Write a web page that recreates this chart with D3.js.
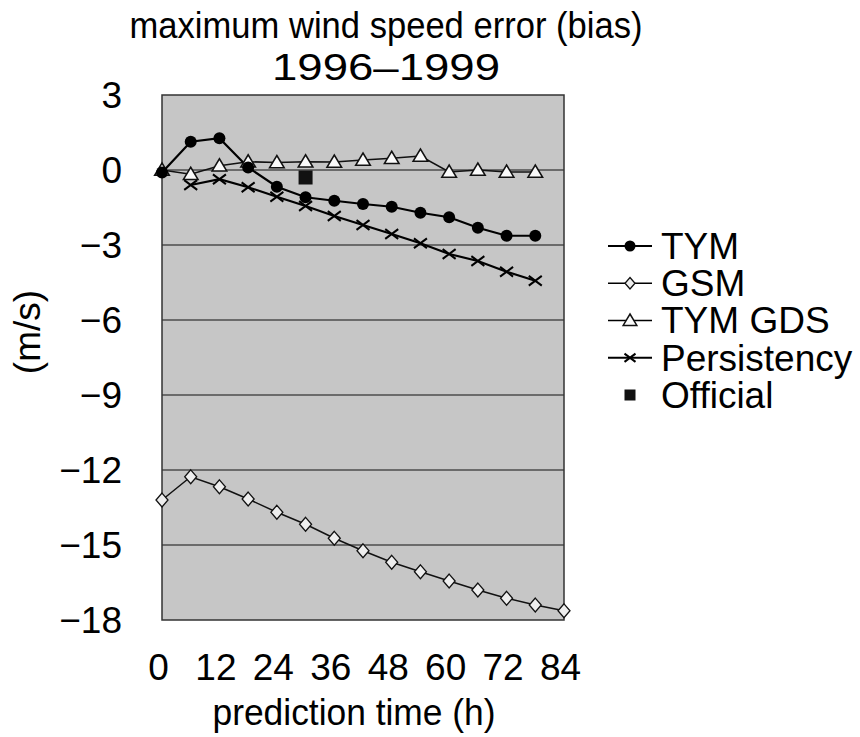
<!DOCTYPE html>
<html><head><meta charset="utf-8">
<script src="https://cdn.jsdelivr.net/npm/d3@7"></script>
<style>body{margin:0;background:#fff}svg{display:block}</style>
</head><body>
<svg id="c" width="860" height="737"></svg>
<script>
// ---- data ----
const hoursTYM = [0,6,12,18,24,30,36,42,48,54,60,66,72,78];
const tym = [-0.1,1.13,1.27,0.1,-0.67,-1.09,-1.23,-1.36,-1.47,-1.71,-1.89,-2.31,-2.63,-2.63];
const hoursGSM = [0,6,12,18,24,30,36,42,48,54,60,66,72,78,84];
const gsm = [-13.2,-12.27,-12.67,-13.16,-13.69,-14.17,-14.73,-15.23,-15.69,-16.07,-16.44,-16.8,-17.13,-17.4,-17.63];
const hoursGDS = [0,6,12,18,24,30,36,42,48,54,60,66,72,78];
const gds = [0,-0.17,0.17,0.33,0.3,0.33,0.32,0.4,0.47,0.56,-0.08,0.0,-0.08,-0.08];
const hoursPers = [6,12,18,24,30,36,42,48,54,60,66,72,78];
const pers = [-0.6,-0.37,-0.69,-1.07,-1.44,-1.84,-2.2,-2.56,-2.93,-3.36,-3.64,-4.07,-4.43];
const hoursOfficial = [30];
const official = [-0.3];
const xTicks = [0,12,24,36,48,60,72,84];
const yTicks = [3,0,-3,-6,-9,-12,-15,-18];
const gridValues = [0,-3,-6,-9,-12,-15];
const legendLabels = ["TYM","GSM","TYM GDS","Persistency","Official"];
const titleLines = ["maximum wind speed error (bias)","1996\u20131999"];

const FONT = "'Liberation Sans', Arial, sans-serif";
const svg = d3.select("#c");
const x = d3.scaleLinear().domain([0,84]).range([162,564]);
const y = d3.scaleLinear().domain([3,-18]).range([95,620]);

// plot background
svg.append("rect").attr("x",x(0)).attr("y",y(3)).attr("width",x(84)-x(0)).attr("height",y(-18)-y(3))
  .attr("fill","#c6c6c6");
// grid
svg.append("g").selectAll("line").data(gridValues).join("line")
  .attr("x1",x(0)).attr("x2",x(84)).attr("y1",d=>y(d)).attr("y2",d=>y(d))
  .attr("stroke","#111").attr("stroke-width",1.2);
// frame
svg.append("rect").attr("x",x(0)).attr("y",y(3)).attr("width",x(84)-x(0)).attr("height",y(-18)-y(3))
  .attr("fill","none").attr("stroke","#333").attr("stroke-width",1.5);

// axes (labels only)
const yAxis = d3.axisLeft(y).tickValues(yTicks).tickSize(0).tickPadding(0)
  .tickFormat(d=>d<0?"\u2212"+Math.abs(d):String(d));
const gy = svg.append("g").attr("transform","translate(122,0)").call(yAxis);
gy.select(".domain").remove();
gy.selectAll("text").attr("font-family",FONT).attr("font-size",37).attr("fill","#000").attr("dy","0.35em");

const xAxis = d3.axisBottom(x).tickValues(xTicks).tickSize(0).tickPadding(0);
const gx = svg.append("g").attr("transform","translate(-4,667)").call(xAxis);
gx.select(".domain").remove();
gx.selectAll("text").attr("font-family",FONT).attr("font-size",37).attr("fill","#000").attr("dy","0.35em");

// titles
svg.append("text").attr("x",386).attr("y",38).attr("text-anchor","middle")
  .attr("font-family",FONT).attr("font-size",36).attr("textLength",513).attr("lengthAdjust","spacingAndGlyphs")
  .text(titleLines[0]);
svg.append("text").attr("x",386).attr("y",80).attr("text-anchor","middle")
  .attr("font-family",FONT).attr("font-size",36).attr("textLength",228).attr("lengthAdjust","spacingAndGlyphs")
  .text(titleLines[1]);
svg.append("text").attr("x",354).attr("y",725).attr("text-anchor","middle")
  .attr("font-family",FONT).attr("font-size",37).attr("textLength",283).attr("lengthAdjust","spacingAndGlyphs")
  .text("prediction time (h)");
svg.append("text").attr("transform","translate(40,332) rotate(-90)").attr("text-anchor","middle")
  .attr("font-family",FONT).attr("font-size",37).text("(m/s)");

// marker helpers
function circleM(g,cx,cy,r){g.append("circle").attr("cx",cx).attr("cy",cy).attr("r",r).attr("fill","#000");}
function diamondM(g,cx,cy,s){g.append("path").attr("d",`M${cx},${cy-s*1.15}L${cx+s},${cy}L${cx},${cy+s*1.15}L${cx-s},${cy}Z`)
  .attr("fill","#eee").attr("stroke","#111").attr("stroke-width",1.3);}
function triM(g,cx,cy,s){g.append("path").attr("d",`M${cx},${cy-s}L${cx+s*1.05},${cy+s*0.75}L${cx-s*1.05},${cy+s*0.75}Z`)
  .attr("fill","#fafafa").attr("stroke","#111").attr("stroke-width",1.5);}
function xM(g,cx,cy,s){g.append("path").attr("d",`M${cx-s},${cy-s*0.75}L${cx+s},${cy+s*0.75}M${cx-s},${cy+s*0.75}L${cx+s},${cy-s*0.75}`)
  .attr("stroke","#000").attr("stroke-width",2);}
function sqM(g,cx,cy,s){g.append("rect").attr("x",cx-s/2).attr("y",cy-s/2).attr("width",s).attr("height",s).attr("fill","#111");}

const line = d3.line().x(d=>x(d[0])).y(d=>y(d[1]));
const zip = (a,b)=>a.map((h,i)=>[h,b[i]]);

const gsmPts = zip(hoursGSM,gsm), gdsPts = zip(hoursGDS,gds), persPts = zip(hoursPers,pers), tymPts = zip(hoursTYM,tym);
const plot = svg.append("g");
plot.append("path").attr("d",line(gsmPts)).attr("fill","none").attr("stroke","#111").attr("stroke-width",1.5);
plot.append("path").attr("d",line(persPts)).attr("fill","none").attr("stroke","#000").attr("stroke-width",2.2);
plot.append("path").attr("d",line(gdsPts)).attr("fill","none").attr("stroke","#111").attr("stroke-width",1.6);
plot.append("path").attr("d",line(tymPts)).attr("fill","none").attr("stroke","#000").attr("stroke-width",2.2);
gsmPts.forEach(d=>diamondM(plot,x(d[0]),y(d[1]),6));
persPts.forEach(d=>xM(plot,x(d[0]),y(d[1]),6.5));
gdsPts.forEach(d=>triM(plot,x(d[0]),y(d[1]),7));
tymPts.forEach(d=>circleM(plot,x(d[0]),y(d[1]),6));
zip(hoursOfficial,official).forEach(d=>sqM(plot,x(d[0]),y(d[1]),14));

// legend
const legY = d3.scalePoint().domain(legendLabels).range([246,395]);
const leg = svg.append("g");
legendLabels.forEach((lab,i)=>{
  const cy = legY(lab);
  if(i<4){
    leg.append("line").attr("x1",608).attr("x2",652).attr("y1",cy).attr("y2",cy)
      .attr("stroke","#000").attr("stroke-width",i===0||i===3?2:1.3);
  }
  const cx = 630;
  if(i===0) circleM(leg,cx,cy,5.5);
  if(i===1) diamondM(leg,cx,cy,5);
  if(i===2) triM(leg,cx,cy,6.5);
  if(i===3) xM(leg,cx,cy,5.5);
  if(i===4) sqM(leg,cx,cy,11);
  leg.append("text").attr("x",661).attr("y",cy).attr("dy","0.35em")
    .attr("font-family",FONT).attr("font-size",37).attr("fill","#000").text(lab);
});
</script>
</body></html>
